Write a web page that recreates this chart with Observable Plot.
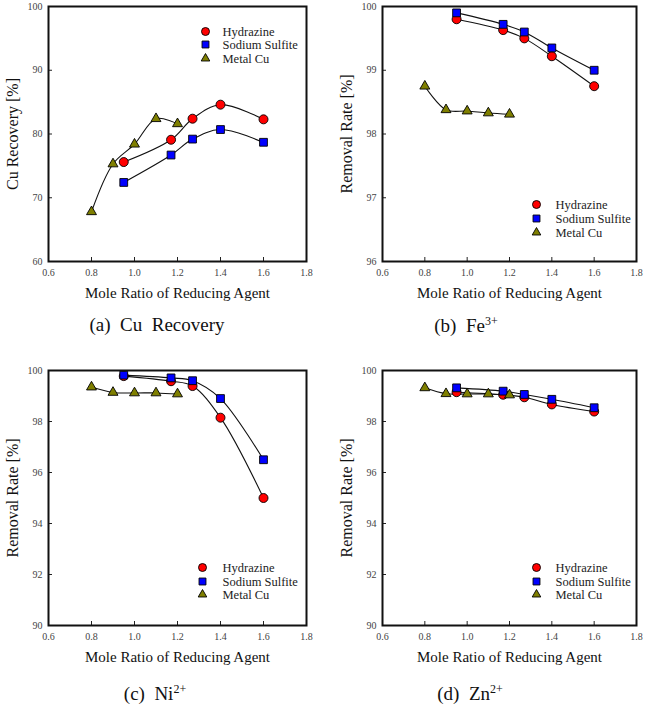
<!DOCTYPE html>
<html>
<head>
<meta charset="utf-8">
<script src="https://cdn.jsdelivr.net/npm/d3@7"></script>
<script src="https://cdn.jsdelivr.net/npm/@observablehq/plot@0.6"></script>
<style>
  body { margin: 0; background: #fff; }
  #wrap { position: relative; width: 645px; height: 708px; overflow: hidden; font-family: "Liberation Serif", "Times New Roman", Tinos, "DejaVu Serif", serif; }
  .panel { position: absolute; }
  .panel svg { overflow: visible; }
  .panel svg text { font-family: "Liberation Serif", "Times New Roman", Tinos, "DejaVu Serif", serif; }
  .cap { position: absolute; font-size: 19px; color: #111; white-space: pre; font-family: "Liberation Serif", "Times New Roman", Tinos, "DejaVu Serif", serif; transform: translateX(-50%); }
  .cap sup { font-size: 12px; }
</style>
</head>
<body>
<div id="wrap">
  <div class="panel" id="pa" style="left:0px;top:0px"></div>
  <div class="panel" id="pb" style="left:322px;top:0px"></div>
  <div class="panel" id="pc" style="left:0px;top:364px"></div>
  <div class="panel" id="pd" style="left:322px;top:364px"></div>
  <div class="cap" style="left:157px;top:314px">(a)  Cu  Recovery</div>
  <div class="cap" style="left:466px;top:314px">(b)  Fe<sup>3+</sup></div>
  <div class="cap" style="left:155px;top:682px">(c)  Ni<sup>2+</sup></div>
  <div class="cap" style="left:470px;top:682px">(d)  Zn<sup>2+</sup></div>
</div>
<script>
// ---------- data ----------
const seriesNames = ["Hydrazine", "Sodium Sulfite", "Metal Cu"];
const reagentX = [0.95, 1.17, 1.27, 1.4, 1.6];   // Hydrazine & Sodium Sulfite
const metalCuX = [0.8, 0.9, 1.0, 1.1, 1.2];      // Metal Cu
const xTicks = [0.6, 0.8, 1.0, 1.2, 1.4, 1.6, 1.8];

// (a) Cu recovery
const cuHydrazine = [75.6, 79.1, 82.4, 84.6, 82.3];
const cuSulfite   = [72.4, 76.7, 79.2, 80.7, 78.7];
const cuMetal     = [67.8, 75.3, 78.4, 82.4, 81.6];
const cuTicks = [60, 70, 80, 90, 100];

// (b) Fe3+
const feHydrazine = [99.80, 99.63, 99.50, 99.22, 98.75];
const feSulfite   = [99.90, 99.72, 99.60, 99.35, 99.00];
const feMetal     = [98.75, 98.38, 98.36, 98.33, 98.31];
const feTicks = [96, 97, 98, 99, 100];

// (c) Ni2+
const niHydrazine = [99.78, 99.58, 99.39, 98.15, 95.00];
const niSulfite   = [99.82, 99.71, 99.60, 98.90, 96.50];
const niMetal     = [99.35, 99.14, 99.12, 99.12, 99.08];
const niTicks = [90, 92, 94, 96, 98, 100];

// (d) Zn2+
const znHydrazine = [99.15, 99.05, 98.95, 98.67, 98.39];
const znSulfite   = [99.32, 99.19, 99.06, 98.87, 98.54];
const znMetal     = [99.32, 99.09, 99.08, 99.08, 99.04];
const znTicks = [90, 92, 94, 96, 98, 100];

// ---------- styles ----------
const styles = {
  "Hydrazine":      {symbol: "circle",   fill: "#ff0000", r: 4.5},
  "Sodium Sulfite": {symbol: "square",   fill: "#0000ff", r: 4.4},
  "Metal Cu":       {symbol: "triangle", fill: "#7f7f00", r: 3.7}
};
const FONT = "'Liberation Serif', 'Times New Roman', Tinos, 'DejaVu Serif', serif";

function rows(h, s, m) {
  const out = [];
  reagentX.forEach((x, i) => out.push({series: "Hydrazine", x, y: h[i]}));
  reagentX.forEach((x, i) => out.push({series: "Sodium Sulfite", x, y: s[i]}));
  metalCuX.forEach((x, i) => out.push({series: "Metal Cu", x, y: m[i]}));
  return out;
}

function panel(el, {left, width, frameW, yDomain, yTicks, yLabel, data, legend}) {
  const marks = [
    Plot.line(data, {x: "x", y: "y", z: "series", curve: "catmull-rom", stroke: "#111", strokeWidth: 1.1}),
    ...seriesNames.map(n => Plot.dot(data.filter(d => d.series === n), {
      x: "x", y: "y", symbol: styles[n].symbol, r: styles[n].r, fill: styles[n].fill, stroke: "#000", strokeWidth: 0.9
    })),
    Plot.axisX(xTicks, {tickSize: -4, tickPadding: 11, tickFormat: d => d.toFixed(1), fontSize: 10, fill: "#444", stroke: "#222", label: null}),
    Plot.axisY(yTicks, {tickSize: -4, tickPadding: 10, tickFormat: d => String(d), fontSize: 10, fill: "#444", stroke: "#222", label: null}),
    Plot.frame({stroke: "#111", strokeWidth: 2}),
    Plot.text([yLabel], {frameAnchor: "left", dx: -36, rotate: -90, text: d => d, textAnchor: "middle", lineAnchor: "middle", fontSize: 16, fill: "#111"}),
    Plot.text(["Mole Ratio of Reducing Agent"], {frameAnchor: "bottom", dy: 32, text: d => d, textAnchor: "middle", lineAnchor: "middle", fontSize: 15, fill: "#111"})
  ];
  seriesNames.forEach((n, i) => {
    const dy = legend.dy[i];
    marks.push(Plot.dot([n], {frameAnchor: legend.anchor, dx: legend.symDx, dy, symbol: styles[n].symbol, r: styles[n].r - 0.5, fill: styles[n].fill, stroke: "#000", strokeWidth: 0.9}));
    marks.push(Plot.text([n], {frameAnchor: legend.anchor, dx: legend.txtDx, dy, text: d => d, textAnchor: "start", lineAnchor: "middle", fontSize: 12.5, fill: "#222"}));
  });
  const chart = Plot.plot({
    width, height: 300,
    marginLeft: left, marginRight: width - left - frameW, marginTop: 6, marginBottom: 39,
    style: {fontFamily: FONT, background: "transparent", overflow: "visible"},
    x: {domain: [0.6, 1.8], axis: null},
    y: {domain: yDomain, axis: null},
    marks
  });
  document.getElementById(el).appendChild(chart);
}

panel("pa", {left: 48, width: 322, frameW: 258, yDomain: [60, 100], yTicks: cuTicks, yLabel: "Cu Recovery [%]",
  data: rows(cuHydrazine, cuSulfite, cuMetal),
  legend: {anchor: "top-right", symDx: -101, txtDx: -84, dy: [25, 38, 52]}});
panel("pb", {left: 60, width: 323, frameW: 254, yDomain: [96, 100], yTicks: feTicks, yLabel: "Removal Rate [%]",
  data: rows(feHydrazine, feSulfite, feMetal),
  legend: {anchor: "bottom-right", symDx: -100, txtDx: -81, dy: [-57, -43, -29]}});
panel("pc", {left: 48, width: 322, frameW: 258, yDomain: [90, 100], yTicks: niTicks, yLabel: "Removal Rate [%]",
  data: rows(niHydrazine, niSulfite, niMetal),
  legend: {anchor: "bottom-right", symDx: -104, txtDx: -84, dy: [-58, -44, -31]}});
panel("pd", {left: 60, width: 323, frameW: 254, yDomain: [90, 100], yTicks: znTicks, yLabel: "Removal Rate [%]",
  data: rows(znHydrazine, znSulfite, znMetal),
  legend: {anchor: "bottom-right", symDx: -100, txtDx: -81, dy: [-58, -44, -31]}});
</script>
</body>
</html>
